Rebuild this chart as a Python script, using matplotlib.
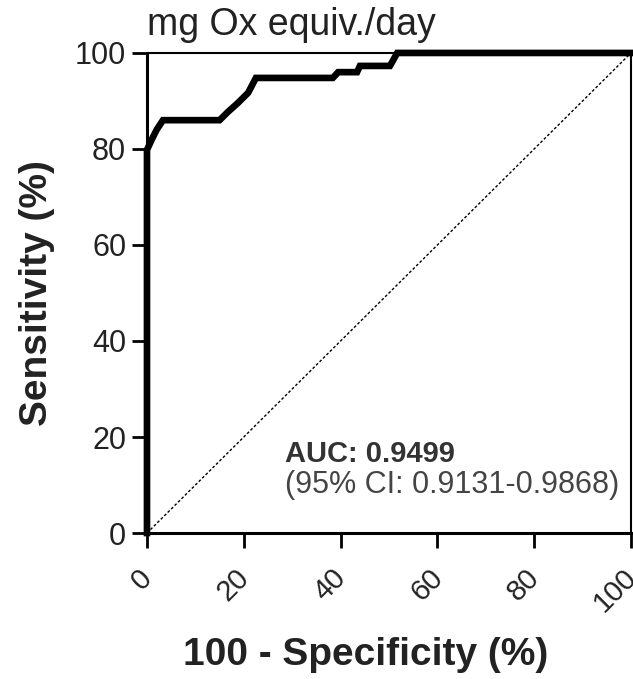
import matplotlib.pyplot as plt
from matplotlib.transforms import ScaledTranslation

plt.rcParams['font.family'] = ['Liberation Sans', 'DejaVu Sans']

# ROC curve (100 - specificity, sensitivity), in %
fpr = [0, 0, 1, 2, 3.3, 15, 16.7, 18.8, 20.9, 22.5, 38.4, 39.5, 43.4, 44, 50.2, 51.7, 100]
tpr = [0, 79.8, 82, 84, 86, 86, 87.7, 89.6, 91.7, 94.8, 94.8, 96, 96, 97.3, 97.3, 100, 100]
ticks = [0, 20, 40, 60, 80, 100]
auc_text = 'AUC: 0.9499'
ci_text = '(95% CI: 0.9131-0.9868)'

fig = plt.figure(figsize=(6.33, 6.79), dpi=100)
ax = fig.add_axes([0.2322, 0.215, 0.7646, 0.707])

ax.plot([0, 100], [0, 100], color='black', lw=1, linestyle=(0, (2, 1.5)))
ax.plot(fpr, tpr, color='black', lw=4.8, solid_joinstyle='miter', clip_on=False, zorder=3)

ax.set_xlim(0, 100)
ax.set_ylim(0, 100)
ax.set_xticks(ticks)
ax.set_yticks(ticks)
ax.set_xticklabels([str(t) for t in ticks], rotation=45, ha='right', va='top',
                   fontsize=21, color='#222222')
ax.set_yticklabels([str(t) for t in ticks], fontsize=22, color='#222222')
ax.tick_params(axis='x', direction='out', length=11, width=2, pad=11)
ax.tick_params(axis='y', direction='out', length=11, width=2, pad=4)
shift = ScaledTranslation(11 / 100, 0, fig.dpi_scale_trans)
for lab in ax.get_xticklabels():
    lab.set_transform(lab.get_transform() + shift)

for side in ['left', 'bottom']:
    ax.spines[side].set_linewidth(2.2)
for side in ['top', 'right']:
    ax.spines[side].set_linewidth(1.5)

ax.set_xlabel('100 - Specificity (%)', fontsize=28, fontweight='bold', color='#222222')
ax.xaxis.set_label_coords(0.452, -0.216)
ax.set_ylabel('Sensitivity (%)', fontsize=28, fontweight='bold', color='#222222')
ax.yaxis.set_label_coords(-0.19, 0.5)
ax.set_title('mg Ox equiv./day', fontsize=27, loc='left', pad=13, color='#222222')

ax.text(28.5, 16.5, auc_text, fontsize=21, fontweight='bold', va='center', color='#333333')
ax.text(28.5, 10, ci_text, fontsize=22, va='center', color='#444444')

fig.savefig('out.png', dpi=100)
